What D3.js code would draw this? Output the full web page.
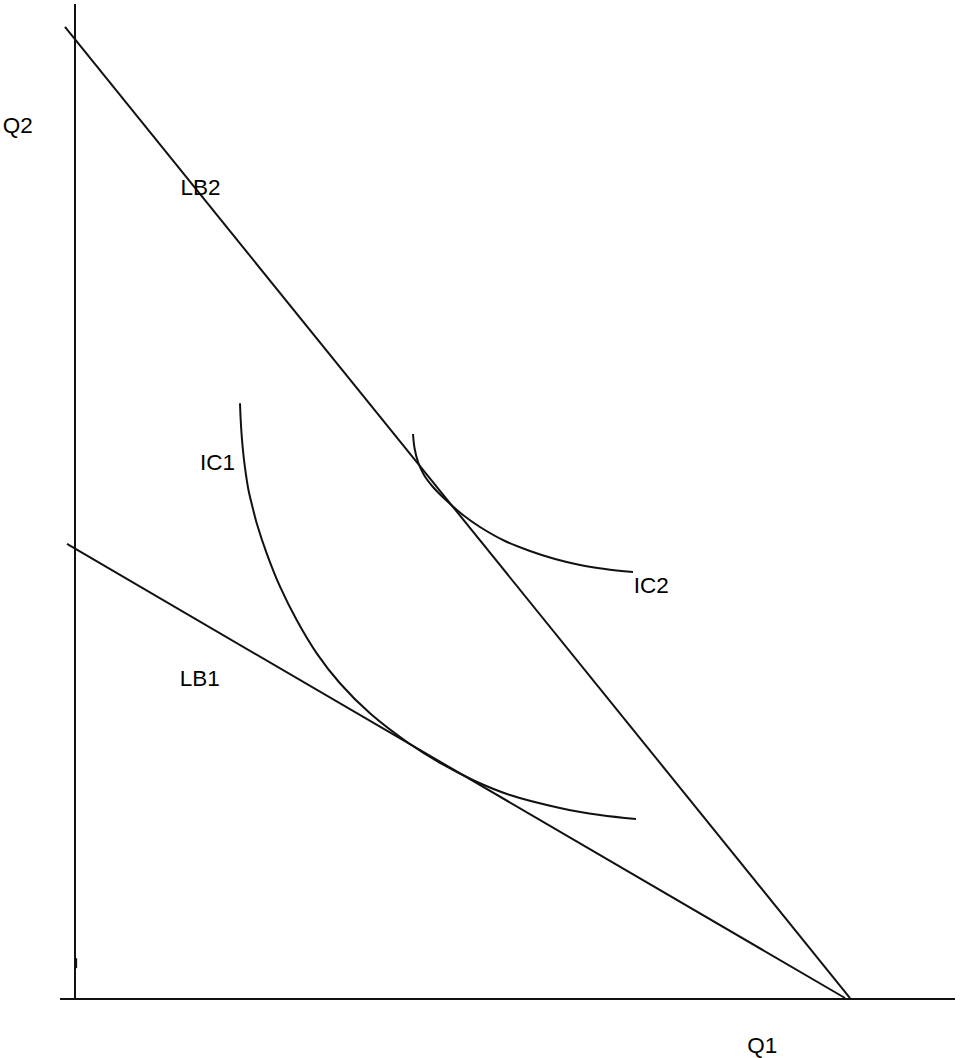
<!DOCTYPE html>
<html>
<head>
<meta charset="utf-8">
<script src="https://cdn.jsdelivr.net/npm/d3@7"></script>
<style>
  html, body { margin: 0; padding: 0; background: #fff; }
  svg { display: block; }
  text { font-family: "Liberation Sans", Arial, sans-serif; font-size: 22.5px; fill: #000; }
</style>
</head>
<body>
<svg id="chart" width="960" height="1058"></svg>
<script>
// Data (abstract quantity units, origin at axes corner)
const budgetLineNames = ["LB2", "LB1"];
const lb2Points = [[-1.14, 97.69], [88.07, 0.1]];
const lb1Points = [[-0.91, 45.73], [87.5, 0.1]];

const ic1Points = [
  [18.75, 59.87], [18.86, 57.69], [19.05, 55.48], [19.32, 53.37], [19.69, 51.26],
  [20.17, 49.45], [20.65, 47.81], [21.78, 44.79], [23.30, 41.44], [25.19, 38.09],
  [27.47, 34.74], [30.11, 31.73], [33.52, 28.71], [37.73, 25.83], [41.48, 23.72],
  [45.45, 21.91], [49.43, 20.50], [55.11, 19.20], [59.66, 18.49], [63.75, 18.09]
];
const ic2Points = [
  [38.41, 56.78], [38.58, 55.38], [38.98, 53.97], [39.66, 52.66], [40.68, 51.46],
  [42.27, 50.05], [44.09, 48.64], [46.02, 47.44], [48.86, 46.03], [51.70, 45.03],
  [54.55, 44.22], [57.39, 43.62], [60.23, 43.22], [63.41, 42.91]
];

const yAxisExtent = [0, 100];
const xAxisExtent = [-1.7, 100];

const labelTexts = ["Q2", "LB2", "IC1", "IC2", "LB1", "Q1"];
const labelX = [-8.2, 12.0, 14.2, 63.5, 11.9, 76.4];
const labelY = [87.04, 80.80, 53.17, 40.80, 31.46, -5.43];

// Scales
const x = d3.scaleLinear().domain([0, 100]).range([75, 955]);
const y = d3.scaleLinear().domain([0, 100]).range([999, 4]);

const svg = d3.select("#chart");
const g = svg.append("g");

const stroke = "#111";
const sw = 2;

// Axes
g.append("line")
  .attr("x1", x(0)).attr("x2", x(0))
  .attr("y1", y(yAxisExtent[1])).attr("y2", y(yAxisExtent[0]))
  .attr("stroke", stroke).attr("stroke-width", sw);
g.append("line")
  .attr("x1", x(xAxisExtent[0])).attr("x2", x(xAxisExtent[1]))
  .attr("y1", y(0)).attr("y2", y(0))
  .attr("stroke", stroke).attr("stroke-width", sw);
// small stub on the y axis near the bottom
g.append("line")
  .attr("x1", x(0.1)).attr("x2", x(0.1))
  .attr("y1", y(4.1)).attr("y2", y(3.1))
  .attr("stroke", stroke).attr("stroke-width", 2.5);

const straight = d3.line().x(d => x(d[0])).y(d => y(d[1]));
const smooth = d3.line().x(d => x(d[0])).y(d => y(d[1])).curve(d3.curveCatmullRom.alpha(0.5));

[ic1Points, ic2Points].forEach(pts => {
  g.append("path").attr("d", smooth(pts))
    .attr("fill", "none").attr("stroke", stroke).attr("stroke-width", sw);
});
[lb2Points, lb1Points].forEach(pts => {
  g.append("path").attr("d", straight(pts))
    .attr("fill", "none").attr("stroke", stroke).attr("stroke-width", sw);
});

// Labels
labelTexts.forEach((t, i) => {
  g.append("text").attr("x", x(labelX[i])).attr("y", y(labelY[i])).text(t);
});
</script>
</body>
</html>
